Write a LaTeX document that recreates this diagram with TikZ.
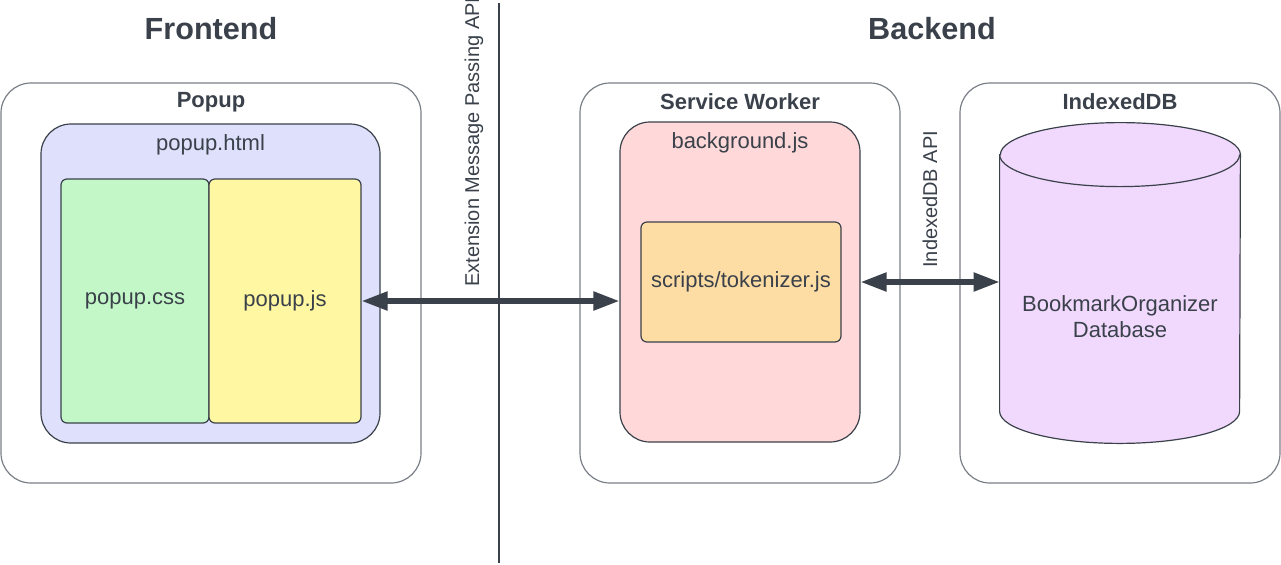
\documentclass[tikz,border=0pt]{standalone}
\usepackage{fontspec}
\setmainfont{Liberation Sans}
\usetikzlibrary{arrows.meta,positioning}

\definecolor{ink}{HTML}{3A414A}
\definecolor{frame}{HTML}{7A7F87}
\definecolor{htmlfill}{HTML}{DFE0FC}
\definecolor{cssfill}{HTML}{C3F7C8}
\definecolor{jsfill}{HTML}{FFF7A1}
\definecolor{bgfill}{HTML}{FFD9D9}
\definecolor{tokfill}{HTML}{FEDDA5}
\definecolor{dbfill}{HTML}{F1D9FD}

\begin{document}
\begin{tikzpicture}
[x = 0.5pt, y = -0.5pt,
 every node/.style = {text = ink, font = \fontsize{11}{13}\selectfont, align = center},
 heading/.style = {font = \fontsize{15.3}{18}\selectfont\bfseries},
 boxtitle/.style = {font = \fontsize{11}{13}\selectfont\bfseries},
 container/.style = {draw = frame, line width = 0.6pt, rounded corners = 15pt, inner sep = 0pt},
 part/.style = {draw = ink, line width = 0.6pt, rounded corners = 15pt, inner sep = 0pt},
 file/.style = {draw = ink, line width = 0.6pt, rounded corners = 3pt, inner sep = 0pt},
 api/.style = {rotate = 90, anchor = base west, inner sep = 0pt, font = \fontsize{10}{12}\selectfont},
 link/.style = {draw = ink, line width = 2.6pt, {Triangle[length = 13pt, width = 9pt]}-{Triangle[length = 13pt, width = 9pt]}}]
\useasboundingbox (0,0) rectangle (1281,564);

% titles and divider
\node[heading] (front) at (211,29) {Frontend};
\node[heading] (back) at (932,29) {Backend};
\draw[ink, line width = 0.6pt] (499,3) -- (499,563);
\node[api] (msgapi) at (479,287) {Extension Message Passing API};

% frontend
\node[container, minimum width = 210pt, minimum height = 200pt] (popup) at (211,283) {};
\node[boxtitle] (popuptitle) at (211,102) {Popup};
\node[part, fill = htmlfill, minimum width = 169.5pt, minimum height = 159.5pt] (html) at (210.5,283.5) {};
\node (htmltitle) at (210.5,145) {popup.html};
\node[file, fill = cssfill, minimum width = 74pt, minimum height = 122pt] (css) at (135,301) {\raisebox{-1pt}{popup.css}};
\node[file, fill = jsfill, minimum width = 76pt, minimum height = 122pt] (js) at (285,301) {\raisebox{-1pt}{popup.js}};

% backend
\node[container, minimum width = 160pt, minimum height = 200pt] (worker) at (740,283) {};
\node[boxtitle] (workertitle) at (740,102) {Service Worker};
\node[part, fill = bgfill, minimum width = 120pt, minimum height = 160pt] (bg) at (740,282) {};
\node (bgtitle) at (740,143) {background.js};
\node[file, fill = tokfill, minimum width = 100pt, minimum height = 60pt] (tok) at (741,282) {scripts/tokenizer.js};

\node[container, minimum width = 160pt, minimum height = 200pt] (idb) at (1120,283) {};
\node[boxtitle] (idbtitle) at (1120,102) {IndexedDB};
\node[minimum width = 120pt, minimum height = 128pt, inner sep = 0pt] (db) at (1120,283) {};
\filldraw[fill = dbfill, draw = ink, line width = 0.6pt]
  (db.north west) -- (db.south west) arc[start angle = 180, end angle = 360, x radius = 60pt, y radius = 16pt]
  -- (db.north east) arc[start angle = 0, end angle = 180, x radius = 60pt, y radius = 16pt] -- cycle;
\draw[ink, line width = 0.6pt] (db.north west) arc[start angle = 180, end angle = 360, x radius = 60pt, y radius = 16pt];
\node (dbname) at ([yshift = -17pt]db.center) {BookmarkOrganizer\\Database};
\node[api] (idbapi) at (937,268) {IndexedDB API};

% connectors
\draw[link] (js.east) -- (js.east -| bg.west);
\draw[link] (bg.east) -- (bg.east -| db.west);
\end{tikzpicture}
\end{document}
